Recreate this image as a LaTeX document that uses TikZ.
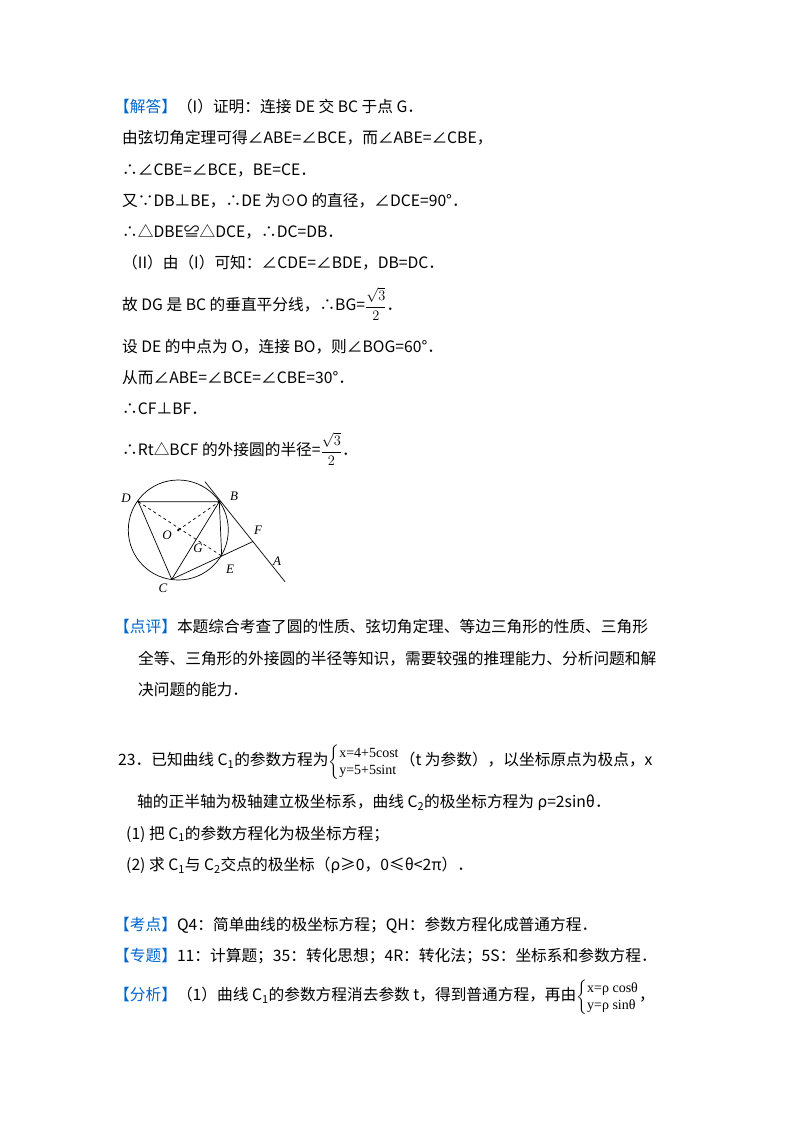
\documentclass[tikz,border=0pt]{standalone}
\usepackage{amsmath}
\usepackage{fontspec}
\setmainfont{Noto Sans CJK SC}
\newfontfamily\eqf{Liberation Serif}
\usetikzlibrary{calc}
\definecolor{lblue}{RGB}{0,102,204}
\newcommand{\lab}[1]{\textcolor{lblue}{【#1】}}
\newcommand{\sbs}[1]{\textsubscript{#1}}
\begin{document}
\begin{tikzpicture}[x=1pt,y=-1pt,
  txt/.style={anchor=west,inner sep=0pt,font=\fontsize{15.7}{18}\selectfont},
  pt/.style={font=\itshape\fontsize{13}{14}\selectfont\eqf,inner sep=0pt},
  geo/.style={line width=0.7pt}]
\fill[white] (0,0) rectangle (800,1132);
\useasboundingbox (0,0) rectangle (800,1132);
\node[txt] (l1) at (114,107) {\lab{解答}（I）证明：连接 DE 交 BC 于点 G．};
\node[txt] (l2) at (122,138) {由弦切角定理可得∠ABE=∠BCE，而∠ABE=∠CBE，};
\node[txt] (l3) at (122,170) {∴∠CBE=∠BCE，BE=CE．};
\node[txt] (l4) at (122,201) {又∵DB⊥BE，∴DE 为⊙O 的直径，∠DCE=90°．};
\node[txt] (l5) at (122,232) {∴△DBE≌△DCE，∴DC=DB．};
\node[txt] (l6) at (122,263) {（II）由（I）可知：∠CDE=∠BDE，DB=DC．};
\node[txt] (l7) at (122,304) {故 DG 是 BC 的垂直平分线，∴BG=$\dfrac{\sqrt{3}}{2}$．};
\node[txt] (l8) at (122,347) {设 DE 的中点为 O，连接 BO，则∠BOG=60°．};
\node[txt] (l9) at (122,378) {从而∠ABE=∠BCE=∠CBE=30°．};
\node[txt] (l10) at (122,409) {∴CF⊥BF．};
\node[txt] (l11) at (122,449) {∴Rt△BCF 的外接圆的半径=$\dfrac{\sqrt{3}}{2}$．};
% figure
\coordinate (Oc) at (178.3,530);
\coordinate (D) at (138.3,501.7);
\coordinate (B) at (219.3,501.7);
\coordinate (C) at (171.7,579.3);
\coordinate (E) at (221.7,556);
\coordinate (T1) at (205,481.7);
\coordinate (T2) at (285,581.7);
\coordinate (F) at (intersection of C--E and T1--T2);
\coordinate (G) at ($(D)!0.72!(E)$);
\draw[geo] (Oc) circle (50);
\draw[geo] (D)--(B)--(C)--(D);
\draw[geo] (B)--(E);
\draw[geo] (C)--(F);
\draw[geo] (T1)--(T2);
\draw[geo,dashed] (D)--(E);
\draw[geo,dashed] (Oc)--(B);
\fill (Oc) circle (1.3);
\fill (D) circle (1.3);
\fill (B) circle (1.3);
\node[pt] (nD) at (126,498) {D};
\node[pt] (nB) at (234,496) {B};
\node[pt] (nO) at (167,535) {O};
\node[pt] (nG) at (198,548) {G};
\node[pt] (nF) at (258,530) {F};
\node[pt] (nA) at (277,561) {A};
\node[pt] (nE) at (230,569) {E};
\node[pt] (nC) at (163,588) {C};
% commentary
\node[txt] (p1) at (114,627) {\lab{点评}本题综合考查了圆的性质、弦切角定理、等边三角形的性质、三角形};
\node[txt] (p2) at (138,659) {全等、三角形的外接圆的半径等知识，需要较强的推理能力、分析问题和解};
\node[txt] (p3) at (138,690) {决问题的能力．};
% problem 23
\node[txt] (q1) at (118,762) {23．已知曲线 C\sbs{1}的参数方程为$\left\{\begin{array}{@{}l@{}}\text{\eqf\fontsize{14}{15}\selectfont x=4+5cost}\\[-1pt]\text{\eqf\fontsize{14}{15}\selectfont y=5+5sint}\end{array}\right.$（t 为参数），以坐标原点为极点，x};
\node[txt] (q2) at (137,802) {轴的正半轴为极轴建立极坐标系，曲线 C\sbs{2}的极坐标方程为 ρ=2sinθ．};
\node[txt] (q3) at (126,834) {(1) 把 C\sbs{1}的参数方程化为极坐标方程；};
\node[txt] (q4) at (126,865) {(2) 求 C\sbs{1}与 C\sbs{2}交点的极坐标（ρ≥0，0≤θ<2π）．};
\node[txt] (k1) at (114,925) {\lab{考点}Q4：简单曲线的极坐标方程；QH：参数方程化成普通方程．};
\node[txt] (k2) at (114,956) {\lab{专题}11：计算题；35：转化思想；4R：转化法；5S：坐标系和参数方程．};
\node[txt] (k3) at (114,997) {\lab{分析}（1）曲线 C\sbs{1}的参数方程消去参数 t，得到普通方程，再由$\left\{\begin{array}{@{}l@{}}\text{\eqf\fontsize{14}{15}\selectfont x=ρ cosθ}\\[-1pt]\text{\eqf\fontsize{14}{15}\selectfont y=ρ sinθ}\end{array}\right.$，};
\end{tikzpicture}
\end{document}
